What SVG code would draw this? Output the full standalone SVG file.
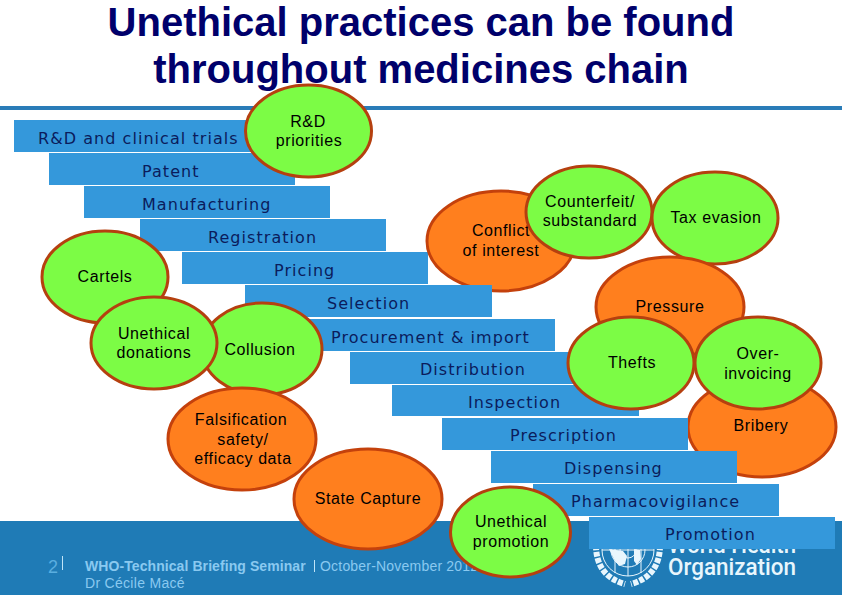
<svg xmlns="http://www.w3.org/2000/svg" width="842" height="595" viewBox="0 0 842 595">
<style>
.bar{fill:#3498db}
.bt{font-family:"DejaVu Sans",sans-serif;font-size:16px;fill:#0b1c5c;letter-spacing:1.05px}
.g{fill:#7cfc45;stroke:#b5400f;stroke-width:3}
.o{fill:#ff7f1e;stroke:#c4410c;stroke-width:3}
.t{font-family:"Liberation Sans",Arial,sans-serif;font-size:16px;fill:#000;text-anchor:middle;letter-spacing:.6px}
.title{font-family:"Liberation Sans",Arial,sans-serif;font-size:40px;font-weight:bold;fill:#00006b;text-anchor:middle}
.f{font-family:"Liberation Sans",Arial,sans-serif;font-size:14px;fill:#8ac9f0}
.who{font-family:"Roboto","DejaVu Sans",sans-serif;font-size:24px;font-weight:500;fill:#e8f6fd}
</style>
<rect width="842" height="595" fill="#fff"/>
<rect id="footer" y="521" width="842" height="74" fill="#1f7bb6"/>
<rect id="rule" y="106" width="842" height="4" fill="#2a7cb8"/>
<text class="title" x="421" y="36">Unethical practices can be found</text>
<text class="title" x="421" y="83">throughout medicines chain</text>
<g id="footer-text">
<text class="f" x="48" y="573" style="font-size:18px;fill:#5aaee0">2</text>
<rect x="62" y="556" width="1" height="14" fill="#bfe4f8"/>
<text class="f" x="85" y="571" style="font-weight:bold;letter-spacing:.08px">WHO-Technical Briefing Seminar</text>
<rect x="314" y="560" width="1" height="12" fill="#bfe4f8"/>
<text class="f" x="320" y="571" style="letter-spacing:.2px">October-November 2012</text>
<text class="f" x="85" y="588" style="letter-spacing:.3px">Dr Cécile Macé</text>
</g>
<g id="who-logo">
<text class="who" x="668" y="553" textLength="128" lengthAdjust="spacingAndGlyphs">World Health</text>
<text class="who" x="668" y="575" textLength="128" lengthAdjust="spacingAndGlyphs">Organization</text>
<g fill="none" stroke="#e8f6fd">
<circle cx="628" cy="550" r="26" stroke-width="1"/>
<circle cx="628" cy="550" r="17" stroke-width="1"/>
<circle cx="628" cy="550" r="8" stroke-width="1"/>
<path d="M628 524V576M602 550H654M615 527V573M641 527V573" stroke-width="1"/>
<path d="M596 545Q596 576 625 584M660 545Q660 576 631 584" stroke-width="6" stroke-dasharray="5 1.5"/>
</g>
<path d="M609 549l14 2 4 5-2 8-6 2-5-7zM634 549l6 1 1 9-4 6-3-4z" fill="#e8f6fd"/>
</g>
<g id="n-rd"><rect class="bar" x="14" y="120" width="246" height="32"/><text class="bt" x="38" y="144">R&amp;D and clinical trials</text></g>
<g id="n-patent"><rect class="bar" x="49" y="153" width="246" height="32"/><text class="bt" x="142" y="177">Patent</text></g>
<g id="n-manufacturing"><rect class="bar" x="84" y="186" width="246" height="32"/><text class="bt" x="142" y="210">Manufacturing</text></g>
<g id="n-registration"><rect class="bar" x="140" y="219" width="246" height="32"/><text class="bt" x="208" y="243">Registration</text></g>
<g id="n-pricing"><rect class="bar" x="182" y="252" width="246" height="32"/><text class="bt" x="274" y="276">Pricing</text></g>
<g id="n-conflict"><ellipse class="o" cx="501" cy="241" rx="74" ry="50"/><text class="t" x="501" y="236">Conflict</text><text class="t" x="501" y="256">of interest</text></g>
<g id="n-selection"><rect class="bar" x="245" y="285" width="247" height="32"/><text class="bt" x="327" y="309">Selection</text></g>
<g id="n-procurement"><rect class="bar" x="309" y="319" width="246" height="32"/><text class="bt" x="331" y="343">Procurement &amp; import</text></g>
<g id="n-distribution"><rect class="bar" x="350" y="352" width="246" height="32"/><text class="bt" x="420" y="375">Distribution</text></g>
<g id="n-inspection"><rect class="bar" x="392" y="385" width="247" height="31"/><text class="bt" x="468" y="408">Inspection</text></g>
<g id="n-counterfeit"><ellipse class="g" cx="589" cy="212" rx="63" ry="46"/><text class="t" x="590" y="207">Counterfeit/</text><text class="t" x="590" y="226">substandard</text></g>
<g id="n-tax"><ellipse class="g" cx="715" cy="218" rx="63" ry="46"/><text class="t" x="716" y="223">Tax evasion</text></g>
<g id="n-pressure"><ellipse class="o" cx="670" cy="307" rx="74" ry="50"/><text class="t" x="670" y="312">Pressure</text></g>
<g id="n-bribery"><ellipse class="o" cx="762" cy="427" rx="74" ry="50"/><text class="t" x="761" y="431">Bribery</text></g>
<g id="n-thefts"><ellipse class="g" cx="631" cy="363" rx="63" ry="46"/><text class="t" x="632" y="368">Thefts</text></g>
<g id="n-overinvoicing"><ellipse class="g" cx="758" cy="363" rx="63" ry="46"/><text class="t" x="758" y="359">Over-</text><text class="t" x="758" y="379">invoicing</text></g>
<g id="n-prescription"><rect class="bar" x="442" y="418" width="246" height="32"/><text class="bt" x="510" y="441">Prescription</text></g>
<g id="n-dispensing"><rect class="bar" x="491" y="451" width="246" height="32"/><text class="bt" x="564" y="474">Dispensing</text></g>
<g id="n-state"><ellipse class="o" cx="368" cy="499" rx="74" ry="50"/><text class="t" x="368" y="504">State Capture</text></g>
<g id="n-pharmacovigilance"><rect class="bar" x="533" y="484" width="246" height="32"/><text class="bt" x="571" y="507">Pharmacovigilance</text></g>
<g id="n-promotion"><rect class="bar" x="589" y="517" width="246" height="32"/><text class="bt" x="665" y="540">Promotion</text></g>
<g id="n-unethical-promotion"><ellipse class="g" cx="510.500" cy="532" rx="60" ry="45"/><text class="t" x="511" y="527">Unethical</text><text class="t" x="511" y="547">promotion</text></g>
<g id="n-rdp"><ellipse class="g" cx="308.500" cy="131" rx="63" ry="46"/><text class="t" x="308" y="127">R&amp;D</text><text class="t" x="309" y="146">priorities</text></g>
<g id="n-cartels"><ellipse class="g" cx="105" cy="277" rx="63" ry="46"/><text class="t" x="105" y="282">Cartels</text></g>
<g id="n-collusion"><ellipse class="g" cx="262" cy="349" rx="60" ry="46"/><text class="t" x="260" y="355">Collusion</text></g>
<g id="n-donations"><ellipse class="g" cx="154" cy="343" rx="63" ry="46"/><text class="t" x="154" y="339">Unethical</text><text class="t" x="154" y="358">donations</text></g>
<g id="n-falsification"><ellipse class="o" cx="242" cy="439" rx="74" ry="51"/><text class="t" x="241" y="425">Falsification</text><text class="t" x="243" y="445">safety/</text><text class="t" x="243" y="464">efficacy data</text></g>
<g id="connectors"/>
</svg>
